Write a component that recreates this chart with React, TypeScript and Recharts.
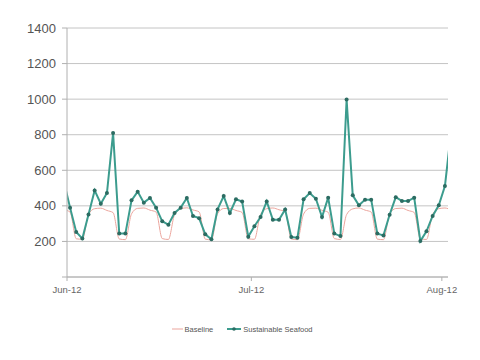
import { LineChart, Line, XAxis, YAxis, CartesianGrid, Legend } from 'recharts'

// days counted from 1 Jun 2012, each reading taken at noon (first one is 31 May)
const firstDay = -0.5

const seafood = [
  534, 390, 253, 216, 351, 487, 412, 472, 809, 244, 244, 431, 480, 418, 444, 390,
  313, 294, 360, 390, 444, 343, 331, 240, 212, 380, 455, 360, 437, 424, 227, 285,
  337, 425, 322, 322, 380, 225, 221, 437, 472, 440, 337, 446, 244, 230, 998, 459,
  403, 435, 435, 244, 234, 350, 449, 427, 427, 446, 202, 257, 343, 403, 511, 820,
]

const baseline = [
  378, 365, 215, 212, 352, 384, 387, 374, 362, 214, 210, 355, 386, 388, 376, 365,
  216, 211, 350, 383, 389, 377, 366, 213, 209, 356, 385, 386, 374, 363, 215, 212,
  352, 384, 388, 378, 368, 214, 210, 354, 386, 387, 375, 364, 216, 211, 351, 383,
  388, 376, 365, 213, 210, 355, 385, 387, 374, 363, 215, 211, 353, 384, 388, 376,
]

const monthTicks = [0, 30, 61]
const monthLabels = ['Jun-12', 'Jul-12', 'Aug-12']
const yTicks = [0, 200, 400, 600, 800, 1000, 1200, 1400]

const data = seafood.map((v, i) => ({ day: firstDay + i, seafood: v, baseline: baseline[i] }))

const TEAL = '#3c9c8e'
const DOT = '#2c6c62'
const SALMON = '#eba59d'

function LegendBox() {
  return (
    <div style={{ display: 'flex', justifyContent: 'center', alignItems: 'center', paddingLeft: 29,
      fontFamily: 'Liberation Sans, Arial, sans-serif', fontSize: 7.5, color: '#555', height: 20 }}>
      <svg width={12} height={8}><line x1={0} y1={4} x2={11} y2={4} stroke={SALMON} strokeWidth={1} /></svg>
      <span style={{ marginLeft: 0, marginRight: 14 }}>Baseline</span>
      <svg width={15} height={8}>
        <line x1={0} y1={4} x2={14} y2={4} stroke={TEAL} strokeWidth={2} />
        <circle cx={7} cy={4} r={1.8} fill={DOT} />
      </svg>
      <span style={{ marginLeft: 1 }}>Sustainable Seafood</span>
    </div>
  )
}

export default function App() {
  return (
    <LineChart width={472} height={352} data={data} margin={{ top: 20, right: 32, left: 0, bottom: 21 }}
      style={{ fontFamily: 'Liberation Sans, Arial, sans-serif' }}>
      <CartesianGrid vertical={false} stroke="#c4c4c4" strokeWidth={1} />
      <XAxis
        dataKey="day"
        type="number"
        domain={[0, 62]}
        allowDataOverflow
        ticks={monthTicks}
        tickFormatter={(d: number) => monthLabels[monthTicks.indexOf(d)]}
        height={42}
        stroke="#b0b0b0"
        tickSize={4}
        tickMargin={5}
        tick={{ fontSize: 9.5, fill: '#666' }}
      />
      <YAxis
        domain={[0, 1400]}
        ticks={yTicks}
        width={59}
        stroke="#b0b0b0"
        tickSize={5}
        tickMargin={6}
        tickFormatter={(v: number) => (v === 0 ? '' : String(v))}
        tick={{ fontSize: 13, fill: '#555' }}
      />
      <Legend verticalAlign="bottom" height={20} content={() => <LegendBox />} />
      <Line type="monotone" dataKey="baseline" name="Baseline" stroke={SALMON} strokeWidth={1}
        dot={false} activeDot={false} isAnimationActive={false} />
      <Line type="linear" dataKey="seafood" name="Sustainable Seafood" stroke={TEAL} strokeWidth={2}
        dot={{ r: 2, fill: DOT, stroke: DOT, strokeWidth: 0 }} activeDot={false} isAnimationActive={false} />
    </LineChart>
  )
}
